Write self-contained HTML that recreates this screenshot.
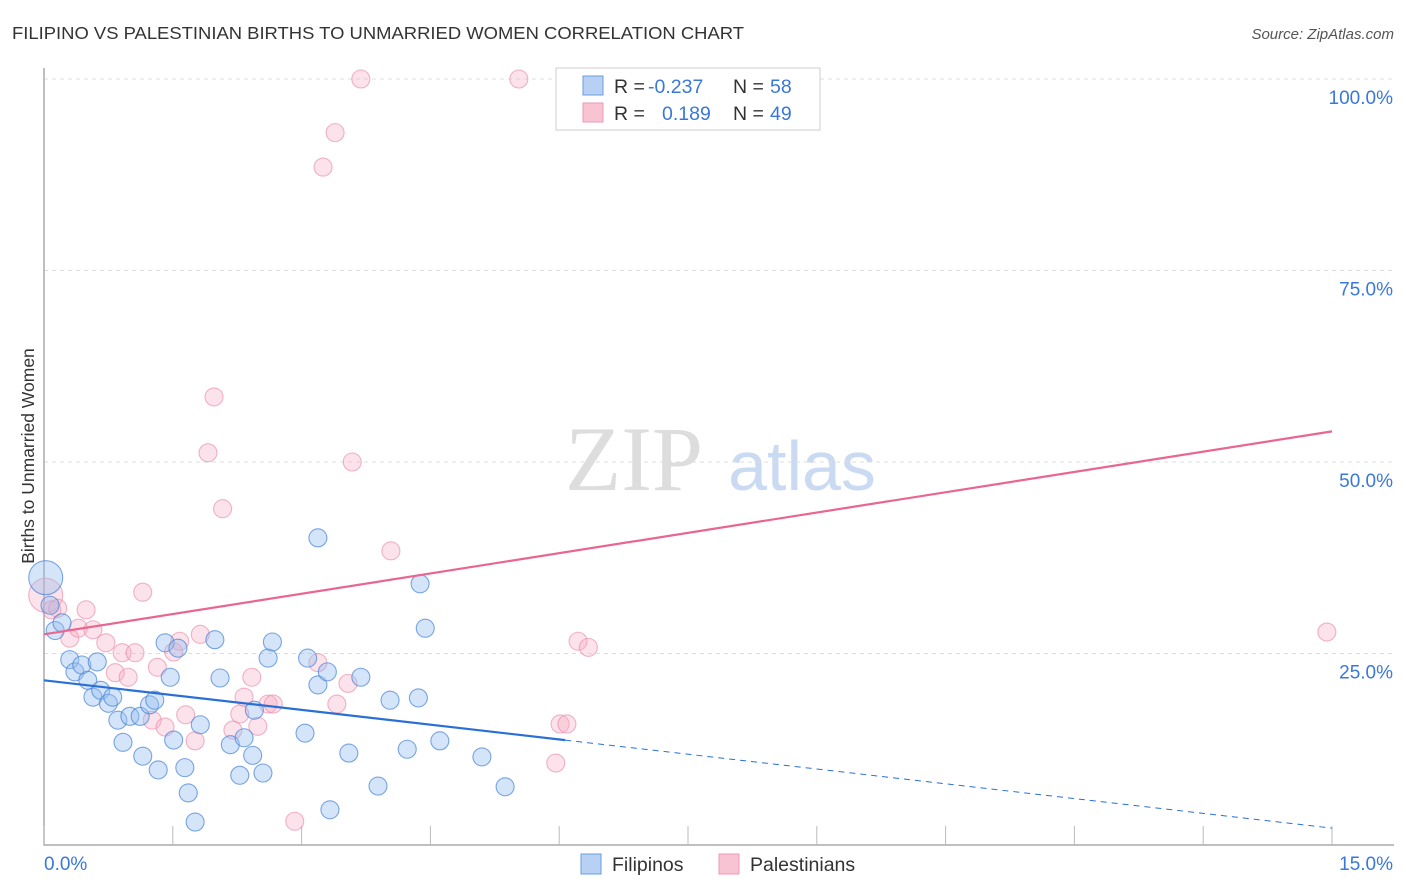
<!DOCTYPE html>
<html><head><meta charset="utf-8">
<style>
body{margin:0;background:#fff;font-family:"Liberation Sans",sans-serif;}
svg{display:block}
</style></head>
<body>
<svg id="chart" width="1406" height="892">
<text x="12" y="39" font-size="17.5" fill="#333" textLength="732" lengthAdjust="spacingAndGlyphs">FILIPINO VS PALESTINIAN BIRTHS TO UNMARRIED WOMEN CORRELATION CHART</text>
<text x="1394" y="39" font-size="15" fill="#555" font-style="italic" text-anchor="end">Source: ZipAtlas.com</text>
<text transform="translate(34,456) rotate(-90)" font-size="17.5" fill="#333" text-anchor="middle">Births to Unmarried Women</text>
<g>
<text x="634" y="490" font-size="92" fill="#ddd" font-family="Liberation Serif,serif" text-anchor="middle">ZIP</text>
<text x="802" y="490" font-size="70" fill="#c9daf2" text-anchor="middle">atlas</text>
</g>
<g id="grid"></g>
<g id="axes"></g>
<g id="pts"></g>
<g id="lines"></g>
<g>
<rect x="556" y="68" width="264" height="62" fill="#fff" stroke="#ccc"/>
<rect x="583" y="76" width="20" height="19" fill="#b7d0f3" stroke="#6a9ee0"/>
<text x="614" y="93" font-size="19.5" fill="#333">R = </text><text x="648" y="93" font-size="19.5" fill="#3a78d8">-0.237</text>
<text x="733" y="93" font-size="19.5" fill="#333">N = </text><text x="770" y="93" font-size="19.5" fill="#3a78d8">58</text>
<rect x="583" y="103" width="20" height="19" fill="#f8c3d3" stroke="#ee98b5"/>
<text x="614" y="120" font-size="19.5" fill="#333">R = </text><text x="662" y="120" font-size="19.5" fill="#3a78d8">0.189</text>
<text x="733" y="120" font-size="19.5" fill="#333">N = </text><text x="770" y="120" font-size="19.5" fill="#3a78d8">49</text>
</g>
<g>
<rect x="581" y="854" width="20" height="20" fill="#b7d0f3" stroke="#6a9ee0"/>
<text x="612" y="871" font-size="19.5" fill="#333">Filipinos</text>
<rect x="719" y="854" width="20" height="20" fill="#f8c3d3" stroke="#ee98b5"/>
<text x="750" y="871" font-size="19.5" fill="#333">Palestinians</text>
</g>
</svg>
<script>
const xTicks=[0,1.5,3,4.5,6,7.5,9,10.5,12,13.5,15];
const yTicks=[25,50,75,100];
const yTickLabels=["25.0%","50.0%","75.0%","100.0%"];
const blueX=[.02,.07,.13,.21,.30,.36,.44,.51,.62,.57,.66,.75,.80,.86,.92,1.00,1.12,1.15,1.23,1.29,1.33,1.41,1.47,1.51,1.56,1.64,1.68,1.76,1.82,1.99,2.05,2.17,2.28,2.33,2.43,2.45,2.55,2.61,2.66,3.04,3.07,3.19,3.19,3.30,3.33,3.55,3.69,3.89,4.03,4.23,4.36,4.38,4.44,4.61,5.10,5.37];
const blueY=[34.9,31.3,28.0,29.0,24.2,22.6,23.5,21.5,23.9,19.3,20.2,18.5,19.3,16.3,13.4,16.8,16.8,11.6,18.3,18.9,9.8,26.4,21.9,13.7,25.7,10.1,6.8,3.0,15.7,26.8,21.8,13.1,9.1,14.0,11.7,17.6,9.4,24.4,26.5,14.6,24.4,20.9,40.1,22.6,4.6,12.0,21.9,7.7,18.9,12.5,19.2,34.1,28.3,13.6,11.5,7.6];
const pinkX=[.02,.09,.16,.30,.40,.49,.57,.72,.83,.91,.98,1.06,1.15,1.26,1.32,1.41,1.51,1.58,1.65,1.76,1.82,1.91,1.98,2.08,2.20,2.28,2.33,2.42,2.49,2.61,2.67,2.92,3.19,3.25,3.39,3.41,3.54,3.59,3.69,4.04,5.53,5.96,6.01,6.09,6.22,6.34,14.94];
const pinkY=[32.6,30.7,30.9,27.0,28.3,30.7,28.1,26.4,22.5,25.1,21.9,25.1,33.0,16.3,23.2,15.4,25.2,26.6,17.0,13.6,27.5,51.2,58.5,43.9,15.0,17.1,19.3,21.9,15.5,18.4,18.4,3.1,23.8,88.5,93.0,18.4,21.1,50.0,100,38.4,100,10.7,15.8,15.8,26.6,25.8,27.8];
const blueTrend=[21.5,2.2];
const pinkTrend=[27.5,54.0];
const blueSolidEnd=6.07;

const NS="http://www.w3.org/2000/svg";
const X=v=>44+v/15*1288;
const Y=v=>845-v/100*766;
function mk(tag,attrs,parent){const e=document.createElementNS(NS,tag);for(const k in attrs)e.setAttribute(k,attrs[k]);parent.appendChild(e);return e;}
const grid=document.getElementById('grid'),axes=document.getElementById('axes'),pts=document.getElementById('pts'),lines=document.getElementById('lines'),svg=document.getElementById('chart');
yTicks.forEach((t,i)=>{
  const l=mk('line',{x1:44,x2:1394,y1:Y(t),y2:Y(t),stroke:'#ddd','stroke-dasharray':'4,4'},grid);
  
  
  const tx=mk('text',{x:1393,y:Y(t)+25,'font-size':19,fill:'#3a78d8','text-anchor':'end'},svg);
  tx.textContent=yTickLabels[i];
  
  
});
const ax=mk('path',{d:'M44 68V845H1394',fill:'none',stroke:'#aaa','stroke-width':1.5},axes);


xTicks.forEach(t=>{
  const l=mk('line',{x1:X(t),x2:X(t),y1:826,y2:845,stroke:'#bbb'},axes);
  
  
});
const xl0=mk('text',{x:44,y:870,'font-size':19,fill:'#3a78d8'},svg);xl0.textContent='0.0%';


const xl1=mk('text',{x:1393,y:870,'font-size':19,fill:'#3a78d8','text-anchor':'end'},svg);xl1.textContent='15.0%';


function dots(xs,ys,fill,stroke,name){
  xs.forEach((x,i)=>{
    const r=(i===0)?17:9;
    const c=mk('circle',{cx:X(x),cy:Y(ys[i]),r:r,fill:fill,stroke:stroke,'stroke-width':1.1},pts);
    
    
  });
}
dots(pinkX,pinkY,'rgba(246,172,196,0.35)','rgba(234,140,170,0.65)','palestinian-point');
dots(blueX,blueY,'rgba(150,190,240,0.4)','rgba(70,130,215,0.7)','filipino-point');
const bAt=x=>blueTrend[0]+(blueTrend[1]-blueTrend[0])*x/15;
const pAt=x=>pinkTrend[0]+(pinkTrend[1]-pinkTrend[0])*x/15;
let l1=mk('line',{x1:X(0),y1:Y(bAt(0)),x2:X(blueSolidEnd),y2:Y(bAt(blueSolidEnd)),stroke:'#2a6fd6','stroke-width':2.2},lines);


let l2=mk('line',{x1:X(blueSolidEnd),y1:Y(bAt(blueSolidEnd)),x2:X(15),y2:Y(bAt(15)),stroke:'#2a6fd6','stroke-width':1,'stroke-dasharray':'6,5'},lines);


let l3=mk('line',{x1:X(0),y1:Y(pAt(0)),x2:X(15),y2:Y(pAt(15)),stroke:'#e8668f','stroke-width':2.2},lines);


</script>
</body></html>
